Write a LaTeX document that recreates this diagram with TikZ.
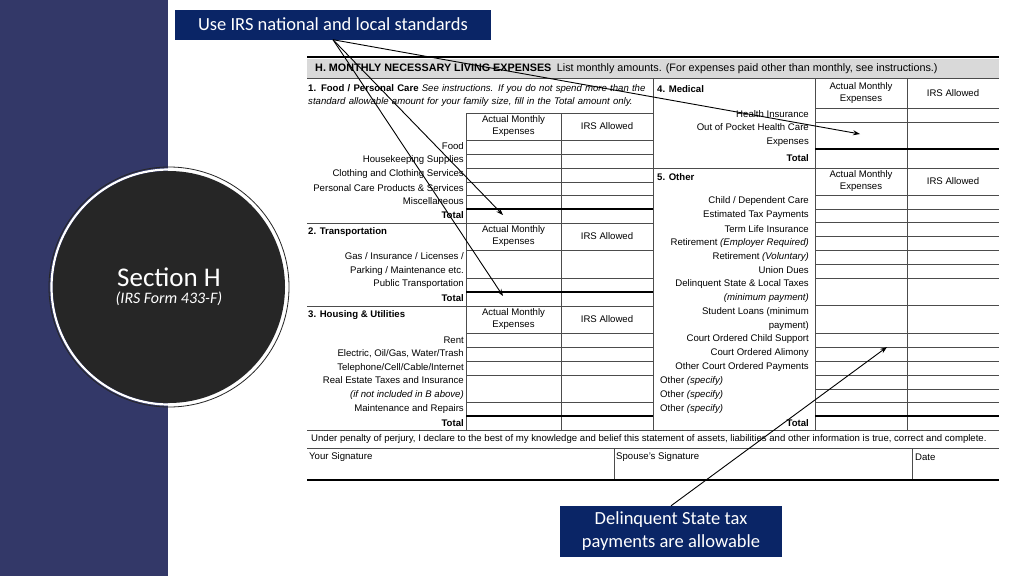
\documentclass[tikz,border=0pt]{standalone}
\usepackage{fontspec}
\setmainfont{Liberation Sans}
\newfontfamily\slidefont{Carlito}
\usetikzlibrary{arrows.meta, positioning}
\definecolor{stripblue}{HTML}{333868}
\definecolor{navybox}{HTML}{0A2566}
\definecolor{discgray}{HTML}{262626}
\tikzset{
  lab/.style={anchor=east, inner sep=1pt, font=\fontsize{9.6}{13.2}\selectfont, align=right},
  labl/.style={anchor=west, inner sep=1pt, font=\fontsize{9.6}{13.2}\selectfont},
  colhead/.style={inner sep=0pt, font=\fontsize{9.6}{12}\selectfont, align=center},
  grid/.style={draw=black!70, line width=0.5pt},
  heavy/.style={draw=black, line width=1.1pt},
  callout/.style={fill=navybox, text=white, font=\slidefont\fontsize{18.5}{23}\selectfont, align=center},
  pointer/.style={-{Stealth[length=7pt,width=5pt]}, line width=0.9pt}
}
\begin{document}
\begin{tikzpicture}[x=1pt, y=-1pt]
    \useasboundingbox (0,0) rectangle (1024,576);
    \fill[white] (0,0) rectangle (1024,576);

    % Left strip and disc
    \fill[stripblue] (0,0) rectangle (168,576);
    \draw[discgray, line width=0.8pt] (169,287) circle (120);
    \draw[white, line width=2.2pt] (169,287) circle (117.5);
    \fill[discgray] (169,287) circle (116);
    \node[text=white, font=\slidefont\fontsize{27}{29}\selectfont] (sectitle) at (169,277) {Section H};
    \node[text=white, font=\slidefont\itshape\fontsize{16}{18}\selectfont, below=-2pt of sectitle] (secform) {(IRS Form 433-F)};

    % Header band
    \draw[heavy] (307,57) -- (999,57);
    \fill[black!15] (307,59) rectangle (999,78);
    \draw[grid] (307,78) -- (999,78);
    \node[labl, font=\fontsize{10.8}{12}\selectfont] (hdr) at (314,68.5)
      {\textbf{H. MONTHLY NECESSARY LIVING EXPENSES}\enspace List monthly amounts. (For expenses paid other than monthly, see instructions.)};

    % Grid: verticals
    \draw[grid] (653,78) -- (653,430);
    \foreach \x in {466,561} {
        \draw[grid] (\x,113) -- (\x,223);
        \draw[grid] (\x,223) -- (\x,306);
        \draw[grid] (\x,306) -- (\x,430);
    }
    \foreach \x in {815,907} \draw[grid] (\x,78) -- (\x,430);
    \draw[grid] (466,113) -- (653,113);

    % Grid: horizontals
    \foreach \y in {140,154,168,182,195,223,250,278,306,333,347,361,375,402,430}
        \draw[grid] (466,\y) -- (653,\y);
    \foreach \y in {108,122,168,195,209,222,236,250,264,278,305,333,347,361,375,389,402,430}
        \draw[grid] (815,\y) -- (999,\y);
    \foreach \y in {209,292,416} \draw[heavy] (466,\y) -- (653,\y);
    \foreach \y in {149,416} \draw[heavy] (815,\y) -- (999,\y);
    \draw[grid] (307,223) -- (653,223);
    \draw[grid] (307,306) -- (653,306);
    \draw[grid] (653,168) -- (999,168);
    \draw[grid] (307,430) -- (999,430);
    \draw[grid] (307,448) -- (999,448);
    \draw[grid] (614,448) -- (614,480);
    \draw[grid] (912,448) -- (912,480);
    \draw[heavy] (307,480) -- (999,480);

    % Column heads
    \foreach \y/\n in {126.5/a,236.5/b,319.5/c} {
        \node[colhead] (act\n) at (513.5,\y) {Actual Monthly\\Expenses};
        \node[colhead] (irs\n) at (607,\y) {IRS Allowed};
    }
    \foreach \y/\n in {93/d,181/e} {
        \node[colhead] (act\n) at (861,\y) {Actual Monthly\\Expenses};
        \node[colhead] (irs\n) at (953,\y) {IRS Allowed};
    }

    % 1. Food
    \node[labl, align=left, anchor=north west, text width=342pt] (food) at (307,83)
      {\textbf{1. Food / Personal Care} \textit{See instructions. If you do not spend more than the standard allowable amount for your family size, fill in the Total amount only.}};
    \node[lab] (f1) at (465,146) {Food};
    \node[lab] (f2) at (465,160) {Housekeeping Supplies};
    \node[lab] (f3) at (465,174) {Clothing and Clothing Services};
    \node[lab] (f4) at (465,188) {Personal Care Products \& Services};
    \node[lab] (f5) at (465,201) {Miscellaneous};
    \node[lab] (f6) at (465,215) {\textbf{Total}};

    % 2. Transportation
    \node[labl] (trans) at (307,232) {\textbf{2. Transportation}};
    \node[lab] (t1) at (465,264) {Gas / Insurance / Licenses /\\Parking / Maintenance etc.};
    \node[lab] (t2) at (465,284) {Public Transportation};
    \node[lab] (t3) at (465,298) {\textbf{Total}};

    % 3. Housing
    \node[labl] (house) at (307,315) {\textbf{3. Housing \& Utilities}};
    \node[lab] (h1) at (465,340) {Rent};
    \node[lab] (h2) at (465,354) {Electric, Oil/Gas, Water/Trash};
    \node[lab] (h3) at (465,368) {Telephone/Cell/Cable/Internet};
    \node[lab] (h4) at (465,388) {Real Estate Taxes and Insurance\\\textit{(if not included in B above)}};
    \node[lab] (h5) at (465,409) {Maintenance and Repairs};
    \node[lab] (h6) at (465,423) {\textbf{Total}};

    % 4. Medical
    \node[labl] (med) at (656,89) {\textbf{4. Medical}};
    \node[lab] (m1) at (810,114) {Health Insurance};
    \node[lab] (m2) at (810,135) {Out of Pocket Health Care\\Expenses};
    \node[lab] (m3) at (810,158) {\textbf{Total}};

    % 5. Other
    \node[labl] (oth) at (656,177) {\textbf{5. Other}};
    \node[lab] (o1) at (810,201) {Child / Dependent Care};
    \node[lab] (o2) at (810,215) {Estimated Tax Payments};
    \node[lab] (o3) at (810,229) {Term Life Insurance};
    \node[lab] (o4) at (810,243) {Retirement \textit{(Employer Required)}};
    \node[lab] (o5) at (810,257) {Retirement \textit{(Voluntary)}};
    \node[lab] (o6) at (810,270) {Union Dues};
    \node[lab] (o7) at (810,291) {Delinquent State \& Local Taxes\\\textit{(minimum payment)}};
    \node[lab] (o8) at (810,319) {Student Loans (minimum\\payment)};
    \node[lab] (o9) at (810,339) {Court Ordered Child Support};
    \node[lab] (o10) at (810,353) {Court Ordered Alimony};
    \node[lab] (o11) at (810,367) {Other Court Ordered Payments};
    \node[labl] (o12) at (659,381) {Other \textit{(specify)}};
    \node[labl] (o13) at (659,395) {Other \textit{(specify)}};
    \node[labl] (o14) at (659,409) {Other \textit{(specify)}};
    \node[lab] (o15) at (810,423) {\textbf{Total}};

    % Declaration and signatures
    \node[labl] (perj) at (310,439) {Under penalty of perjury, I declare to the best of my knowledge and belief this statement of assets, liabilities and other information is true, correct and complete.};
    \node[labl] (sig1) at (308,457) {Your Signature};
    \node[labl] (sig2) at (615,457) {Spouse's Signature};
    \node[labl] (sig3) at (914,457) {Date};

    % Callouts
    \node[callout, minimum width=316pt, minimum height=30pt] (stdbox) at (333,24.5) {Use IRS national and local standards};
    \node[callout, minimum width=222pt, minimum height=51pt] (delbox) at (671,531.5) {Delinquent State tax\\payments are allowable};
    \coordinate (medtip) at (860,134);
    \coordinate (foodtip) at (503,215);
    \coordinate (transtip) at (503,296);
    \coordinate (othtip) at (887,347);
    \foreach \t in {medtip,foodtip,transtip}
        \draw[pointer] (stdbox.south) -- (\t);
    \draw[pointer] (delbox.north) -- (othtip);
\end{tikzpicture}
\end{document}
